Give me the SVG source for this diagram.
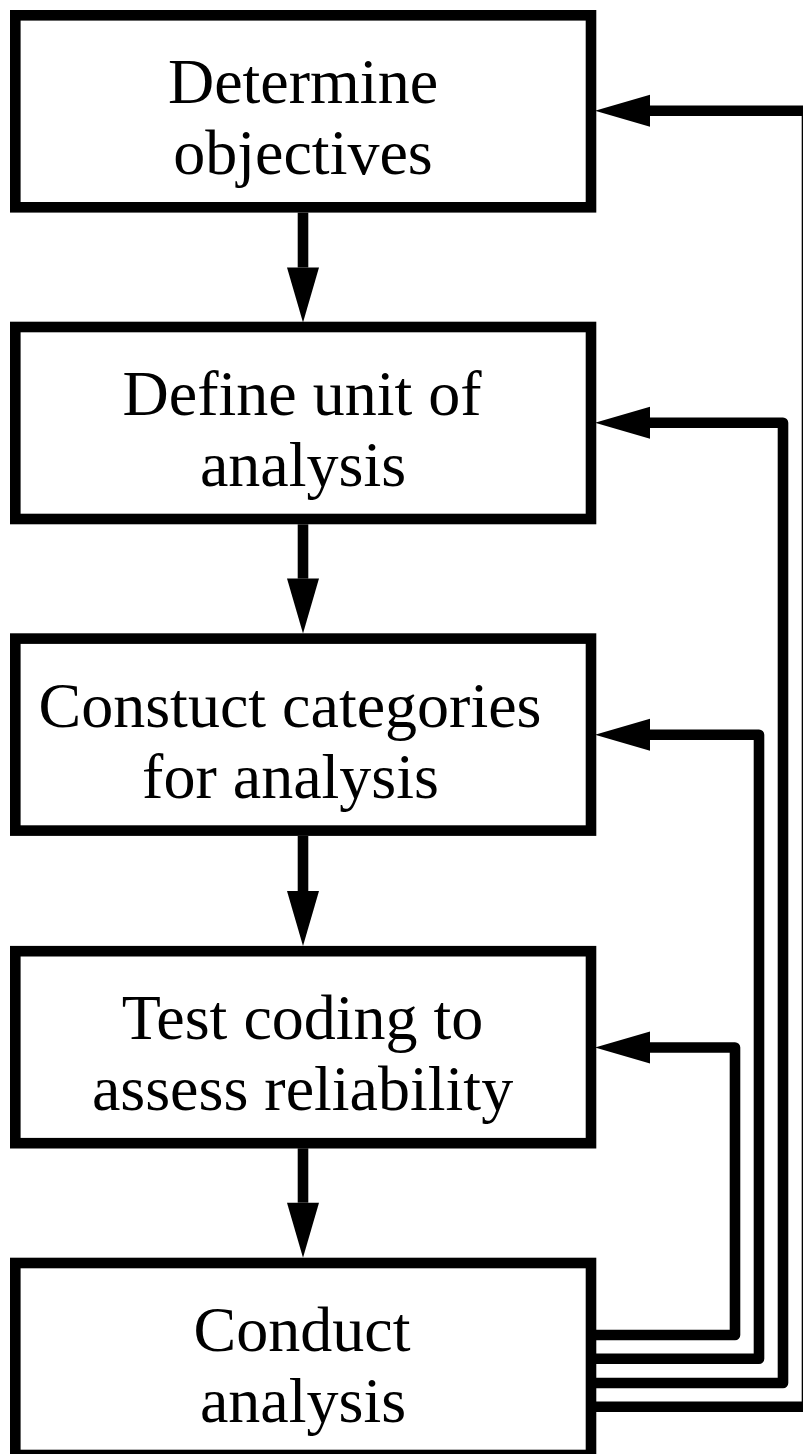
<svg xmlns="http://www.w3.org/2000/svg" width="803" height="1454" viewBox="0 0 803 1454">
<defs>
<style>
.box{fill:#fff;stroke:#000;stroke-width:10.6}
.lbl{font-family:"Liberation Serif","Times New Roman",serif;font-size:64px;fill:#000;text-anchor:middle}
.con{fill:none;stroke:#000;stroke-width:10.6;stroke-linejoin:round}
</style>
<marker id="ah" markerUnits="userSpaceOnUse" markerWidth="56" markerHeight="34" refX="0" refY="16" orient="auto" overflow="visible">
<path d="M0,0 L55,16 L0,32 Z" fill="#000"/>
</marker>
</defs>
<rect width="803" height="1454" fill="#fff"/>
<g id="n1">
<rect class="box" x="15.3" y="15.3" width="575.7" height="192"/>
<text class="lbl" x="303" y="103">Determine</text>
<text class="lbl" x="303" y="174">objectives</text>
</g>
<g id="n2">
<rect class="box" x="15.3" y="327" width="575.7" height="192"/>
<text class="lbl" x="302" y="415">Define unit of</text>
<text class="lbl" x="303" y="486">analysis</text>
</g>
<g id="n3">
<rect class="box" x="15.3" y="638.6" width="575.7" height="192"/>
<text class="lbl" x="290" y="726.5">Constuct categories</text>
<text class="lbl" x="290.5" y="797.5">for analysis</text>
</g>
<g id="n4">
<rect class="box" x="15.3" y="951.2" width="575.7" height="192"/>
<text class="lbl" x="302.5" y="1039">Test coding to</text>
<text class="lbl" x="302.5" y="1110">assess reliability</text>
</g>
<g id="n5">
<rect class="box" x="15.3" y="1263" width="575.7" height="192"/>
<text class="lbl" x="302" y="1351">Conduct</text>
<text class="lbl" x="303" y="1422">analysis</text>
</g>
<g id="connectors">
<g transform="translate(0,0)">
<path class="con" d="M303,212.6 V267.5" marker-end="url(#ah)"/>
<path class="con" d="M303,524.3 V578.6" marker-end="url(#ah)"/>
<path class="con" d="M303,836 V891" marker-end="url(#ah)"/>
<path class="con" d="M303,1148.3 V1202.7" marker-end="url(#ah)"/>
</g>
<path class="con" d="M596,1406.7 H807 V110.7 H650" marker-end="url(#ah)"/>
<path class="con" d="M596,1383 H783 V422.8 H650" marker-end="url(#ah)"/>
<path class="con" d="M596,1358.8 H759 V734.8 H650" marker-end="url(#ah)"/>
<path class="con" d="M596,1335 H735 V1047.5 H650" marker-end="url(#ah)"/>
</g>
</svg>
